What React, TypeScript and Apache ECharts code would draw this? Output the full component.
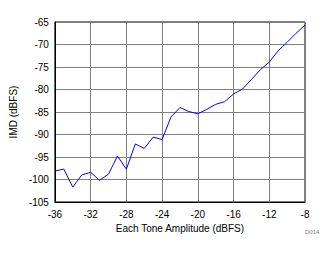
import React, { useEffect, useRef } from "react";
import * as echarts from "echarts";

const amplitude = [-36, -35, -34, -33, -32, -31, -30, -29, -28, -27, -26, -25, -24, -23, -22, -21, -20, -19, -18, -17, -16, -15, -14, -13, -12, -11, -10, -9, -8];
const imd = [-98.1, -97.7, -101.7, -99.0, -98.4, -100.2, -98.8, -94.8, -97.7, -92.1, -93.1, -90.6, -91.1, -86.1, -84.0, -84.9, -85.4, -84.4, -83.3, -82.7, -81.0, -79.9, -77.8, -75.6, -73.9, -71.4, -69.5, -67.5, -65.7];
const xTitle = "Each Tone Amplitude (dBFS)";
const yTitle = "IMD (dBFS)";
const note = "D014";

export default function App() {
  const ref = useRef<HTMLDivElement>(null);
  useEffect(() => {
    const chart = echarts.init(ref.current!, null, { renderer: "svg" });
    const font = "Liberation Sans, Arial, sans-serif";
    chart.setOption({
      animation: false,
      backgroundColor: "#ffffff",
      grid: { left: 50, top: 22, width: 255, height: 180, show: true, borderColor: "#000000", borderWidth: 1 },
      xAxis: {
        type: "value",
        min: -36,
        max: -8,
        interval: 4,
        name: xTitle,
        nameLocation: "middle",
        nameGap: 20,
        nameTextStyle: { fontFamily: font, fontSize: 10, color: "#000" },
        axisLine: { show: true, lineStyle: { color: "#000", width: 1 } },
        axisTick: { show: false },
        axisLabel: { fontFamily: font, fontSize: 10, color: "#000", margin: 7 },
        splitLine: { show: true, lineStyle: { color: "#808080", width: 1 } },
      },
      yAxis: {
        type: "value",
        min: -105,
        max: -65,
        interval: 5,
        name: yTitle,
        nameLocation: "middle",
        nameGap: 28,
        nameRotate: 90,
        nameTextStyle: { fontFamily: font, fontSize: 10, color: "#000" },
        axisLine: { show: true, lineStyle: { color: "#000", width: 1 } },
        axisTick: { show: false },
        axisLabel: { fontFamily: font, fontSize: 10, color: "#000", margin: 6 },
        splitLine: { show: true, lineStyle: { color: "#808080", width: 1 } },
      },
      graphic: [
        {
          type: "text",
          left: 305,
          top: 229,
          style: { text: note, fontFamily: font, fontSize: 6, fill: "#808080" },
        },
      ],
      series: [
        {
          type: "line",
          data: amplitude.map((x, i) => [x, imd[i]]),
          showSymbol: false,
          lineStyle: { color: "#0000ff", width: 1 },
          itemStyle: { color: "#0000ff" },
        },
      ],
    });
    return () => chart.dispose();
  }, []);
  return <div ref={ref} style={{ width: 334, height: 254, position: "absolute", left: 0, top: 0 }} />;
}
